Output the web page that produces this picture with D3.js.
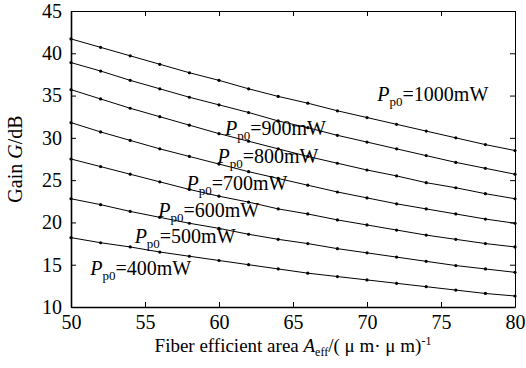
<!DOCTYPE html>
<html>
<head>
<meta charset="utf-8">
<script src="https://cdn.jsdelivr.net/npm/d3@7"></script>
<style>
  body { margin: 0; background: #fff; }
  svg { display: block; font-family: "Liberation Serif", "Times New Roman", serif; }
  svg text { font-family: "Liberation Serif", "Times New Roman", serif !important; }
</style>
</head>
<body>
<svg></svg>
<script>
let width = 526, height = 368;

// Data
const areas = [50, 52, 54, 56, 58, 60, 62, 64, 66, 68, 70, 72, 74, 76, 78, 80];
const powers = [1000, 900, 800, 700, 600, 500, 400];
const gain1000 = [41.7, 40.7, 39.7, 38.7, 37.7, 36.8, 35.8, 34.9, 34.1, 33.2, 32.4, 31.6, 30.8, 30.0, 29.2, 28.5];
const gain900  = [38.9, 37.9, 36.8, 35.8, 34.8, 33.9, 33.0, 32.0, 31.2, 30.3, 29.5, 28.7, 27.9, 27.1, 26.4, 25.7];
const gain800  = [35.7, 34.6, 33.5, 32.5, 31.5, 30.5, 29.6, 28.7, 27.8, 27.0, 26.2, 25.5, 24.7, 24.1, 23.4, 22.8];
const gain700  = [31.8, 30.7, 29.7, 28.7, 27.8, 26.9, 26.0, 25.2, 24.4, 23.6, 22.9, 22.2, 21.6, 21.0, 20.4, 19.9];
const gain600  = [27.5, 26.6, 25.7, 24.8, 23.9, 23.1, 22.4, 21.6, 21.0, 20.3, 19.7, 19.1, 18.5, 18.0, 17.5, 17.1];
const gain500  = [22.8, 22.1, 21.3, 20.6, 19.9, 19.3, 18.6, 18.0, 17.5, 16.9, 16.4, 15.9, 15.4, 14.9, 14.5, 14.1];
const gain400  = [18.2, 17.6, 17.1, 16.5, 16.0, 15.5, 15.0, 14.5, 14.0, 13.6, 13.2, 12.8, 12.4, 12.0, 11.6, 11.3];
const xTicks = [50, 55, 60, 65, 70, 75, 80];
const yTicks = [10, 15, 20, 25, 30, 35, 40, 45];

const series = [gain1000, gain900, gain800, gain700, gain600, gain500, gain400];

// where each curve label sits (data coords of the label start / baseline)
const labelAt = [[70.7, 34.4], [60.4, 30.3], [59.9, 27.0], [57.8, 23.8], [55.9, 20.6], [54.3, 17.6], [51.3, 13.8]];

let margin = {top: 11, right: 11, bottom: 61, left: 71};
let w = width - margin.left - margin.right,
    h = height - margin.top - margin.bottom;

let svg = d3.select("svg")
    .attr("width", width)
    .attr("height", height);

let g = svg.append("g")
    .attr("transform", "translate(" + margin.left + "," + margin.top + ")");

let x = d3.scaleLinear().domain([50, 80]).range([0, w]);
let y = d3.scaleLinear().domain([10, 45]).range([h, 0]);

// Axes, ticks pointing inwards on all four sides
let xAxis = g.append("g")
    .attr("transform", "translate(0," + h + ")")
    .call(d3.axisBottom(x).tickValues(xTicks).tickSizeInner(-5).tickSizeOuter(0).tickPadding(8));
let yAxis = g.append("g")
    .call(d3.axisLeft(y).tickValues(yTicks).tickSizeInner(-5).tickSizeOuter(0).tickPadding(9));
let topAxis = g.append("g")
    .call(d3.axisTop(x).tickValues(xTicks).tickSizeInner(-5).tickSizeOuter(0).tickFormat(""));
let rightAxis = g.append("g")
    .attr("transform", "translate(" + w + ",0)")
    .call(d3.axisRight(y).tickValues(yTicks).tickSizeInner(-5).tickSizeOuter(0).tickFormat(""));

// let the axes use the page serif font
[xAxis, yAxis, topAxis, rightAxis].forEach(a => a.attr("font-family", null).attr("font-size", 20));

g.selectAll(".domain").attr("stroke", "#000");
g.selectAll(".tick line").attr("stroke", "#000");
xAxis.select(".domain").attr("stroke-width", 1.6);
yAxis.select(".domain").attr("stroke-width", 1.6);
g.selectAll(".tick text").attr("fill", "#000");

// Curves
let line = d3.line()
    .x((d, i) => x(areas[i]))
    .y(d => y(d));

series.forEach(s => {
    g.append("path")
        .datum(s)
        .attr("fill", "none")
        .attr("stroke", "#000")
        .attr("stroke-width", 1)
        .attr("d", line);

    g.append("g")
        .selectAll("circle")
        .data(s)
        .enter()
        .append("circle")
        .attr("cx", (d, i) => x(areas[i]))
        .attr("cy", d => y(d))
        .attr("r", 1.6)
        .attr("fill", "#000");
});

// Curve labels  P_p0=XXXmW
powers.forEach((p, i) => {
    let t = g.append("text")
        .attr("x", x(labelAt[i][0]))
        .attr("y", y(labelAt[i][1]))
        .attr("fill", "#000")
        .style("font-size", "20px");
    t.append("tspan").attr("font-style", "italic").text("P");
    t.append("tspan").attr("dy", 5).style("font-size", "13px").text("p0");
    t.append("tspan").attr("dy", -5).text("=" + p + "mW");
});

// Axis titles
let xt = svg.append("text")
    .attr("x", margin.left + w / 2)
    .attr("y", 352)
    .attr("text-anchor", "middle")
    .attr("fill", "#000")
    .style("font-size", "19px");
xt.append("tspan").text("Fiber efficient area ");
xt.append("tspan").attr("font-style", "italic").text("A");
xt.append("tspan").attr("dy", 4).style("font-size", "12px").text("eff");
xt.append("tspan").attr("dy", -4).text("/( \u03bc m\u00b7 \u03bc m)");
xt.append("tspan").attr("dy", -7).style("font-size", "12px").text("-1");

let yt = svg.append("text")
    .attr("transform", "translate(22," + (margin.top + h / 2) + ") rotate(-90)")
    .attr("text-anchor", "middle")
    .attr("fill", "#000")
    .style("font-size", "20px");
yt.append("tspan").text("Gain ");
yt.append("tspan").attr("font-style", "italic").text("G");
yt.append("tspan").text("/dB");
</script>
</body>
</html>
